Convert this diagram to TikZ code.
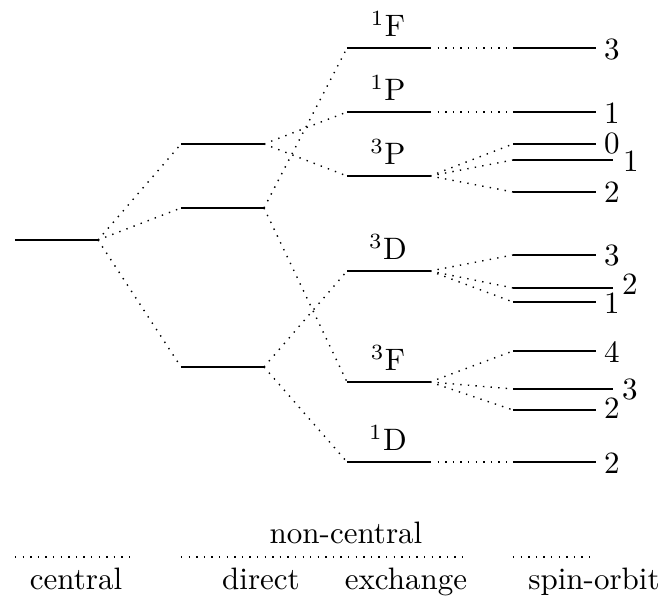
\documentclass[tikz,border=0pt]{standalone}
\begin{document}
\begin{tikzpicture}[x=0.3226pt,y=-0.3226pt,
  level/.style={line width=0.45pt},
  link/.style={dotted,line width=0.45pt},
  lbl/.style={anchor=base,inner sep=0pt},
  jlbl/.style={anchor=center,inner sep=0pt}]
\useasboundingbox (0,0) rectangle (663,597);
% coordinates of level ends
\coordinate (cL) at (15,240); \coordinate (cR) at (98,240);
\coordinate (d1L) at (181,144); \coordinate (d1R) at (264,144);
\coordinate (d2L) at (181,208); \coordinate (d2R) at (264,208);
\coordinate (d3L) at (181,367); \coordinate (d3R) at (264,367);
\coordinate (e1FL) at (347,48);  \coordinate (e1FR) at (430,48);
\coordinate (e1PL) at (347,112); \coordinate (e1PR) at (430,112);
\coordinate (e3PL) at (347,176); \coordinate (e3PR) at (430,176);
\coordinate (e3DL) at (347,271); \coordinate (e3DR) at (430,271);
\coordinate (e3FL) at (347,382); \coordinate (e3FR) at (430,382);
\coordinate (e1DL) at (347,462); \coordinate (e1DR) at (430,462);
\coordinate (s1FL) at (513,48);  \coordinate (s1FR) at (596,48);
\coordinate (s1PL) at (513,112); \coordinate (s1PR) at (596,112);
\coordinate (sP0L) at (513,144); \coordinate (sP0R) at (596,144);
\coordinate (sP1L) at (513,160); \coordinate (sP1R) at (613,160);
\coordinate (sP2L) at (513,192); \coordinate (sP2R) at (596,192);
\coordinate (sD3L) at (513,255); \coordinate (sD3R) at (596,255);
\coordinate (sD2L) at (513,288); \coordinate (sD2R) at (613,288);
\coordinate (sD1L) at (513,302); \coordinate (sD1R) at (596,302);
\coordinate (sF4L) at (513,351); \coordinate (sF4R) at (596,351);
\coordinate (sF3L) at (513,389); \coordinate (sF3R) at (613,389);
\coordinate (sF2L) at (513,410); \coordinate (sF2R) at (596,410);
\coordinate (s1DL) at (513,462); \coordinate (s1DR) at (596,462);
% levels
\foreach \n in {c,d1,d2,d3,e1F,e1P,e3P,e3D,e3F,e1D,s1F,s1P,sP0,sP1,sP2,sD3,sD2,sD1,sF4,sF3,sF2,s1D}
  \draw[level] (\n L) -- (\n R);
% central -> direct
\draw[link] (cR) -- (d1L);
\draw[link] (cR) -- (d2L);
\draw[link] (cR) -- (d3L);
% direct -> exchange
\draw[link] (d1R) -- (e1PL);
\draw[link] (d1R) -- (e3PL);
\draw[link] (d2R) -- (e1FL);
\draw[link] (d2R) -- (e3FL);
\draw[link] (d3R) -- (e3DL);
\draw[link] (d3R) -- (e1DL);
% exchange -> spin-orbit
\draw[link] (e1FR) -- (s1FL);
\draw[link] (e1PR) -- (s1PL);
\draw[link] (e3PR) -- (sP0L);
\draw[link] (e3PR) -- (sP1L);
\draw[link] (e3PR) -- (sP2L);
\draw[link] (e3DR) -- (sD3L);
\draw[link] (e3DR) -- (sD2L);
\draw[link] (e3DR) -- (sD1L);
\draw[link] (e3FR) -- (sF4L);
\draw[link] (e3FR) -- (sF3L);
\draw[link] (e3FR) -- (sF2L);
\draw[link] (e1DR) -- (s1DL);
% term labels
\node[lbl] (t1F) at (388,37)  {$^1$F};
\node[lbl] (t1P) at (388,101) {$^1$P};
\node[lbl] (t3P) at (388,165) {$^3$P};
\node[lbl] (t3D) at (388,260) {$^3$D};
\node[lbl] (t3F) at (388,371) {$^3$F};
\node[lbl] (t1D) at (388,451) {$^1$D};
% J labels
\node[jlbl] (j1F) at (612,50)  {3};
\node[jlbl] (j1P) at (612,113) {1};
\node[jlbl] (jP0) at (612,144) {0};
\node[jlbl] (jP1) at (631,161) {1};
\node[jlbl] (jP2) at (612,192) {2};
\node[jlbl] (jD3) at (612,256) {3};
\node[jlbl] (jD2) at (630,284) {2};
\node[jlbl] (jD1) at (612,303) {1};
\node[jlbl] (jF4) at (612,352) {4};
\node[jlbl] (jF3) at (630,390) {3};
\node[jlbl] (jF2) at (612,408) {2};
\node[jlbl] (j1D) at (612,463) {2};
% bottom legend
\coordinate (b1L) at (15,557);  \coordinate (b1R) at (135,557);
\coordinate (b2L) at (181,557); \coordinate (b2R) at (468,557);
\coordinate (b3L) at (513,557); \coordinate (b3R) at (590,557);
\draw[link] (b1L) -- (b1R);
\draw[link] (b2L) -- (b2R);
\draw[link] (b3L) -- (b3R);
\node[lbl] (noncentral) at (346,544) {non-central};
\node[lbl] (central) at (76,590) {central};
\node[lbl] (direct) at (261,590) {direct};
\node[lbl] (exchange) at (406,590) {exchange};
\node[lbl] (spinorbit) at (594,590) {spin-orbit};
\end{tikzpicture}
\end{document}
